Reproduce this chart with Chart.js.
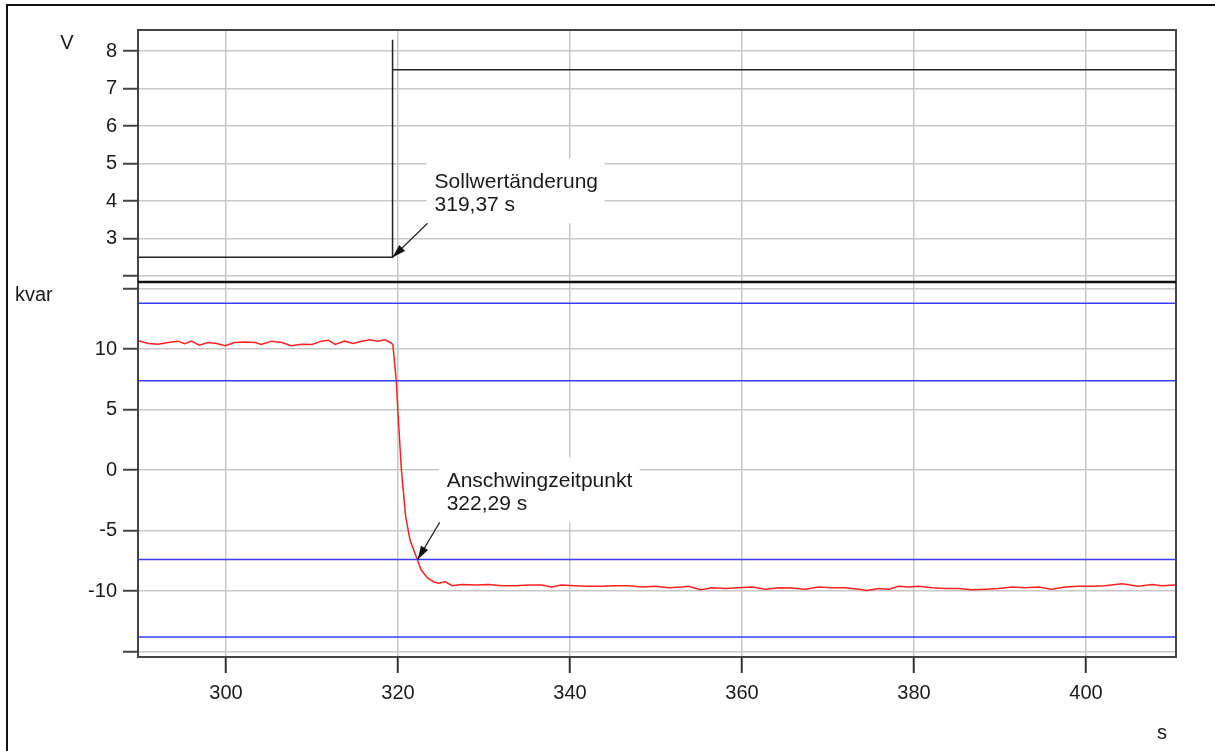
<!DOCTYPE html>
<html>
<head>
<meta charset="utf-8">
<title>Sollwertänderung</title>
<script src="https://cdn.jsdelivr.net/npm/chart.js@4.4.1/dist/chart.umd.min.js"></script>
<style>
    html, body { margin: 0; padding: 0; background: #fff; }
    #wrap { position: relative; width: 1215px; height: 751px; overflow: hidden; }
    #frame { position: absolute; left: 6px; top: 4px; width: 1240px; height: 790px; border: 2px solid #111; box-sizing: border-box; }
    #chart { position: absolute; left: 0; top: 0; }
</style>
</head>
<body>
<div id="wrap">
    <div id="frame"></div>
    <canvas id="chart" width="1215" height="751"></canvas>
</div>
<script>
// time axis (s)
const xMin = 289.77, xMax = 410.47;
const xTicksStep = 20;

// upper panel: control voltage (V)
const vTime   = [289.77, 319.37, 319.37, 319.37, 410.47];
const vValues = [2.5, 2.5, 8.3, 7.5, 7.5];
const vMin = 1.84, vMax = 8.56;

// lower panel: reactive power (kvar)
const qTime = [289.8, 291.0, 292.1, 293.3, 294.4, 295.2, 296.0, 296.9, 297.9, 298.9,
    299.9, 301.0, 302.2, 303.4, 304.1, 305.3, 306.5, 307.6, 308.8, 310.0,
    311.1, 311.9, 312.7, 313.8, 314.8, 315.8, 316.7, 317.7, 318.5, 319.1,
    319.4, 319.8, 320.0, 320.4, 320.9, 321.4, 322.2, 322.7, 323.5, 324.2,
    324.7, 325.5, 326.3, 327.4, 329.0, 330.5, 332.1, 333.6, 335.2, 336.7,
    337.9, 339.0, 340.6, 342.1, 343.7, 345.2, 346.8, 348.4, 349.9, 351.5,
    353.0, 353.8, 355.2, 356.5, 358.1, 359.6, 361.2, 362.7, 364.3, 365.8,
    367.4, 368.9, 370.5, 372.0, 373.6, 374.5, 375.9, 377.1, 378.2, 379.4,
    380.6, 382.1, 383.7, 385.2, 386.7, 388.3, 389.8, 391.4, 392.9, 394.5,
    396.0, 397.6, 399.1, 400.7, 402.2, 404.2, 406.1, 407.7, 408.8, 410.4];
const qValues = [10.69, 10.47, 10.41, 10.55, 10.66, 10.44, 10.66, 10.33, 10.55, 10.47,
    10.28, 10.55, 10.60, 10.55, 10.39, 10.66, 10.55, 10.28, 10.41, 10.39,
    10.66, 10.74, 10.39, 10.66, 10.47, 10.66, 10.77, 10.66, 10.77, 10.55,
    10.40, 7.44, 4.70, 0.00, -3.86, -5.78, -7.30, -8.26, -8.95, -9.25,
    -9.36, -9.23, -9.56, -9.45, -9.50, -9.45, -9.56, -9.56, -9.50, -9.50,
    -9.67, -9.50, -9.56, -9.61, -9.61, -9.56, -9.56, -9.67, -9.61, -9.73,
    -9.67, -9.61, -9.89, -9.73, -9.78, -9.73, -9.67, -9.84, -9.73, -9.75,
    -9.84, -9.67, -9.73, -9.73, -9.84, -9.95, -9.78, -9.84, -9.61, -9.67,
    -9.61, -9.73, -9.78, -9.78, -9.89, -9.84, -9.78, -9.67, -9.73, -9.67,
    -9.84, -9.67, -9.61, -9.61, -9.56, -9.39, -9.61, -9.45, -9.56, -9.50];
const qMin = -15.45, qMax = 15.55;
const qBands = [13.8, 7.38, -7.38, -13.8];

// annotations
const setpointTime = 319.37, setpointValue = 2.5;
const settleTime = 322.29, settleValue = -7.38;

const FONT = "'Liberation Sans', Arial, sans-serif";
const TEXT = '#1a1a1a';
const GRID = '#c8c8c8';

function pairs(xs, ys) {
    return xs.map((x, i) => ({ x: x, y: ys[i] }));
}

const datasets = [];
qBands.forEach(b => {
    datasets.push({
        data: [{ x: xMin, y: b }, { x: xMax, y: b }],
        yAxisID: 'yQ', borderColor: '#3b3bff', borderWidth: 1.5
    });
});
datasets.push({ data: pairs(qTime, qValues), yAxisID: 'yQ', borderColor: '#ff2020', borderWidth: 1.5 });
datasets.push({ data: pairs(vTime, vValues), yAxisID: 'yV', borderColor: '#222', borderWidth: 1.5 });

function fixWidth(scale) { scale.width = 138; }

const yCommon = {
    type: 'linear',
    position: 'left',
    stack: 'panels',
    afterFit: fixWidth,
    grid: { color: GRID, lineWidth: 1.5, tickLength: 15, tickColor: '#444', tickWidth: 2 },
    border: { display: true, color: '#333', width: 2 },
    ticks: { color: TEXT, font: { family: FONT, size: 20 }, padding: 6, includeBounds: false, autoSkip: false }
};

const frameAndNotes = {
    id: 'frameAndNotes',
    afterDraw(chart) {
        const ctx = chart.ctx;
        const a = chart.chartArea;
        const sx = chart.scales.x, sv = chart.scales.yV, sq = chart.scales.yQ;
        ctx.save();
        // plot frame and panel separator
        ctx.strokeStyle = '#444';
        ctx.lineWidth = 2;
        ctx.strokeRect(a.left, a.top, a.right - a.left, a.bottom - a.top);
        ctx.strokeStyle = '#111';
        ctx.lineWidth = 2.5;
        ctx.beginPath();
        ctx.moveTo(a.left, sq.top);
        ctx.lineTo(a.right, sq.top);
        ctx.stroke();

        // unit labels
        ctx.fillStyle = TEXT;
        ctx.font = '20px ' + FONT;
        ctx.textAlign = 'center';
        ctx.textBaseline = 'middle';
        ctx.fillText('V', 67, 43);
        ctx.fillText('s', 1162, 733);
        ctx.textAlign = 'left';
        ctx.fillText('kvar', 15, 295);

        function note(tx, ty, box, text, tail) {
            ctx.fillStyle = '#fff';
            ctx.fillRect(tx + box[0], ty + box[1], box[2], box[3]);
            ctx.fillStyle = TEXT;
            ctx.textAlign = 'left';
            ctx.textBaseline = 'alphabetic';
            ctx.font = '21px ' + FONT;
            ctx.fillText(text[0], tx + box[0] + 8, ty + box[1] + 30);
            ctx.fillText(text[1], tx + box[0] + 8, ty + box[1] + 53);
            // arrow
            const fx = tx + tail[0], fy = ty + tail[1];
            const ang = Math.atan2(ty - fy, tx - fx);
            ctx.strokeStyle = '#222';
            ctx.lineWidth = 1.2;
            ctx.beginPath();
            ctx.moveTo(fx, fy);
            ctx.lineTo(tx, ty);
            ctx.stroke();
            ctx.fillStyle = '#111';
            ctx.beginPath();
            ctx.moveTo(tx, ty);
            ctx.lineTo(tx - 14 * Math.cos(ang - 0.3), ty - 14 * Math.sin(ang - 0.3));
            ctx.lineTo(tx - 14 * Math.cos(ang + 0.3), ty - 14 * Math.sin(ang + 0.3));
            ctx.closePath();
            ctx.fill();
        }

        note(sx.getPixelForValue(setpointTime), sv.getPixelForValue(setpointValue),
            [34, -99, 178, 65], ['Sollwertänderung', '319,37 s'], [35, -34]);
        note(sx.getPixelForValue(settleTime), sq.getPixelForValue(settleValue),
            [21, -102, 201, 65], ['Anschwingzeitpunkt', '322,29 s'], [22, -37]);
        ctx.restore();
    }
};

new Chart(document.getElementById('chart'), {
    type: 'line',
    data: { datasets: datasets },
    options: {
        responsive: false,
        animation: false,
        layout: { padding: { left: 0, top: 30, right: 39, bottom: 0 } },
        elements: { point: { radius: 0 }, line: { tension: 0 } },
        plugins: { legend: { display: false }, tooltip: { enabled: false } },
        scales: {
            x: {
                type: 'linear',
                min: xMin,
                max: xMax,
                afterFit(scale) { scale.height = 94; },
                grid: { color: GRID, lineWidth: 1.5, tickLength: 16, tickColor: '#333', tickWidth: 2 },
                border: { display: true, color: '#333', width: 2 },
                ticks: { stepSize: xTicksStep, includeBounds: false, autoSkip: false, color: TEXT, font: { family: FONT, size: 20 }, padding: 8, maxRotation: 0 }
            },
            yQ: Object.assign({}, yCommon, {
                min: qMin, max: qMax, stackWeight: 375,
                ticks: Object.assign({}, yCommon.ticks, {
                    stepSize: 5,
                    callback: v => Math.abs(v) === 15 ? '' : String(v)
                })
            }),
            yV: Object.assign({}, yCommon, {
                min: vMin, max: vMax, stackWeight: 252,
                ticks: Object.assign({}, yCommon.ticks, {
                    stepSize: 1,
                    callback: v => v === 2 ? '' : String(v)
                })
            })
        }
    },
    plugins: [frameAndNotes]
});
</script>
</body>
</html>
